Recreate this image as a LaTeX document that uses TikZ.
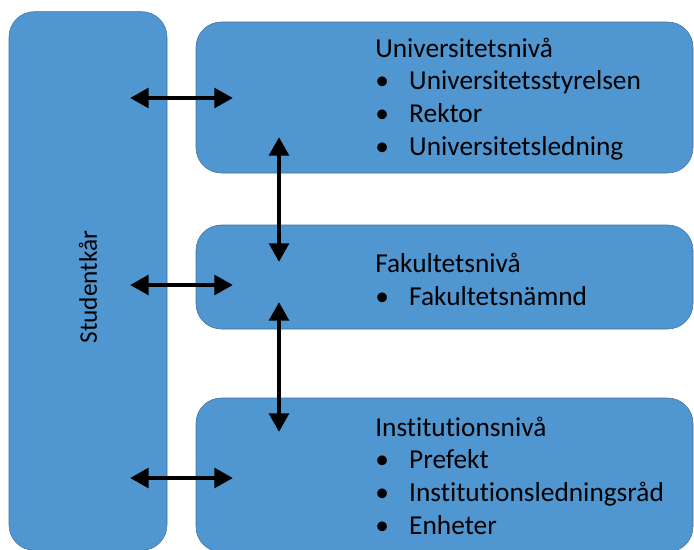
\documentclass[tikz,border=0pt]{standalone}
\usepackage{fontspec}
\setmainfont[Ligatures=NoCommon]{Carlito}
\usetikzlibrary{arrows.meta}
\definecolor{boxblue}{RGB}{80,150,208}
\definecolor{boxline}{RGB}{65,113,156}
\newcommand{\punkt}{\makebox[25.5pt][l]{\textbullet}}

\begin{document}
\begin{tikzpicture}[x=0.75pt, y=-0.75pt]
	\tikzstyle{level}=[rectangle, draw=boxline, fill=boxblue, rounded corners=19pt,
	thin, minimum width=372.75pt]
	\tikzstyle{leveltext}=[anchor=base west, align=left, inner sep=0pt,
	font=\fontsize{20.5}{24.4}\selectfont]
	\tikzstyle{link}=[line width=3.5pt,
	{Triangle[width=14.5pt,length=14pt]}-{Triangle[width=14.5pt,length=14pt]}]

	\useasboundingbox (0,0) rectangle (694,550);
	\clip (0,0) rectangle (694,550);

	\node[level, minimum width=118.5pt, minimum height=404pt] at (88,281) (studentkar) {};
	\node[level, minimum height=113.25pt] at (444.5,97.5) (uni) {};
	\node[level, minimum height=78pt] at (444.5,277) (fak) {};
	\node[level, minimum height=115.5pt] at (444.5,475) (inst) {};

	\node[rotate=90, font=\fontsize{19}{22}\selectfont] at (88,287) (studtext) {Studentkår};

	% base anchor = last line
	\node[leveltext] at (375,155) (unitext) {Universitetsnivå\\
	\punkt Universitetsstyrelsen\\
	\punkt Rektor\\
	\punkt Universitetsledning};
	\node[leveltext] at (375,305) (faktext) {Fakultetsnivå\\
	\punkt Fakultetsnämnd};
	\node[leveltext] at (375,534) (insttext) {Institutionsnivå\\
	\punkt Prefekt\\
	\punkt Institutionsledningsråd\\
	\punkt Enheter};

	% ends of the arrows
	\coordinate (s1) at (130,98);
	\coordinate (u1) at (233,98);
	\coordinate (s2) at (130,285);
	\coordinate (f1) at (233,285);
	\coordinate (s3) at (130,478);
	\coordinate (i1) at (233,478);
	\coordinate (u2) at (279,137);
	\coordinate (f2) at (279,262);
	\coordinate (f3) at (279,302);
	\coordinate (i2) at (279,432);

	\draw[link] (s1) -- (u1);
	\draw[link] (s2) -- (f1);
	\draw[link] (s3) -- (i1);
	\draw[link] (u2) -- (f2);
	\draw[link] (f3) -- (i2);
\end{tikzpicture}
\end{document}
